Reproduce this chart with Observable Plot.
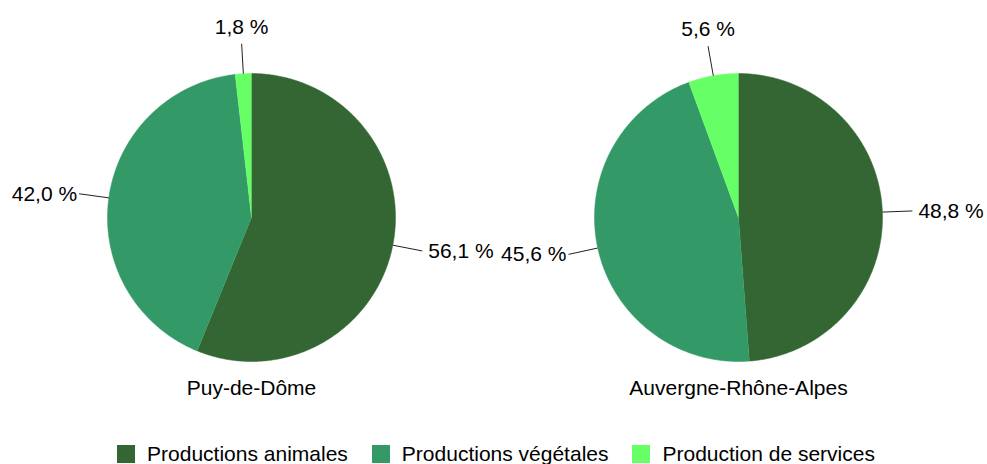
<!DOCTYPE html>
<html>
<head>
<meta charset="utf-8">
<script src="https://cdn.jsdelivr.net/npm/d3@7"></script>
<script src="https://cdn.jsdelivr.net/npm/@observablehq/plot@0.6"></script>
<style>
  html, body { margin: 0; padding: 0; background: #fff; overflow: hidden; }
  #chart { width: 987px; height: 464px; font-family: "Liberation Sans", Arial, sans-serif; }
  #legend { display: flex; justify-content: center; align-items: center; height: 20px; font-size: 21px; color: #000; padding-left: 5px; }
  .item { display: flex; align-items: center; margin: 0 12px; }
  .sw { width: 18px; height: 18px; margin-right: 12px; }
</style>
</head>
<body>
<div id="chart"></div>
<script>
// ---- data ----
const regions = ["Puy-de-Dôme", "Auvergne-Rhône-Alpes"];
const categories = ["Productions animales", "Productions végétales", "Production de services"];
const puyDeDome = [56.1, 42.0, 1.8];
const auvergneRhoneAlpes = [48.8, 45.6, 5.6];
const colors = ["#336633", "#339966", "#66ff66"];

// ---- layout (pixel units on identity scales) ----
const W = 987, H = 444;
const centersX = [251, 738];
const centerY = 217;
const radius = 144;
const titleY = 388;
const connector = 30;

const series = [puyDeDome, auvergneRhoneAlpes];
const fmt = v => v.toFixed(1).replace(".", ",") + " %";

const slices = [];   // polygon points
const labels = [];
series.forEach((vals, p) => {
  const rows = vals.map((v, i) => ({region: regions[p], category: categories[i], value: v}));
  const arcs = d3.pie().sort(null).value(d => d.value)(rows);
  const cx = centersX[p], cy = centerY;
  arcs.forEach(a => {
    const key = a.data.region + "|" + a.data.category;
    slices.push({key, category: a.data.category, x: cx, y: cy});
    const n = Math.max(2, Math.ceil((a.endAngle - a.startAngle) / (Math.PI / 360)));
    for (let k = 0; k <= n; k++) {
      const t = a.startAngle + (a.endAngle - a.startAngle) * k / n;
      slices.push({key, category: a.data.category, x: cx + radius * Math.sin(t), y: cy - radius * Math.cos(t)});
    }
    const m = (a.startAngle + a.endAngle) / 2;
    const s = Math.sin(m), c = Math.cos(m);
    const side = Math.abs(s) < 0.3 ? (c > 0 ? "top" : "bottom") : (s > 0 ? "right" : "left");
    labels.push({
      text: fmt(a.data.value),
      x1: cx + radius * s, y1: cy - radius * c,
      x2: cx + (radius + connector) * s, y2: cy - (radius + connector) * c,
      side
    });
  });
});

const font = {fontSize: 21, fill: "#000"};
const plot = Plot.plot({
  width: W, height: H,
  margin: 0,
  x: {domain: [0, W], range: [0, W], axis: null},
  y: {domain: [0, H], range: [0, H], axis: null},
  color: {domain: categories, range: colors},
  style: {fontFamily: "'Liberation Sans', Arial, sans-serif", background: "#fff"},
  marks: [
    Plot.line(slices, {x: "x", y: "y", z: "key", fill: "category", stroke: "category", strokeWidth: 0.5, curve: "linear"}),
    Plot.link(labels, {x1: "x1", y1: "y1", x2: "x2", y2: "y2", stroke: "#222", strokeWidth: 1}),
    Plot.text(labels.filter(d => d.side === "right"), {x: "x2", y: "y2", text: "text", textAnchor: "start", dx: 6, ...font}),
    Plot.text(labels.filter(d => d.side === "left"), {x: "x2", y: "y2", text: "text", textAnchor: "end", dx: -2, ...font}),
    Plot.text(labels.filter(d => d.side === "top"), {x: "x2", y: "y2", text: "text", textAnchor: "middle", lineAnchor: "bottom", dy: -10, ...font}),
    Plot.text(labels.filter(d => d.side === "bottom"), {x: "x2", y: "y2", text: "text", textAnchor: "middle", lineAnchor: "top", dy: 6, ...font}),
    Plot.text(regions, {x: (d, i) => centersX[i], y: () => titleY, text: d => d, textAnchor: "middle", ...font})
  ]
});

const chart = document.getElementById("chart");
chart.appendChild(plot);

const legend = document.createElement("div");
legend.id = "legend";
categories.forEach((c, i) => {
  const item = document.createElement("div");
  item.className = "item";
  const sw = document.createElement("span");
  sw.className = "sw";
  sw.style.background = colors[i];
  const label = document.createElement("span");
  label.textContent = c;
  item.appendChild(sw);
  item.appendChild(label);
  legend.appendChild(item);
});
chart.appendChild(legend);
</script>
</body>
</html>
